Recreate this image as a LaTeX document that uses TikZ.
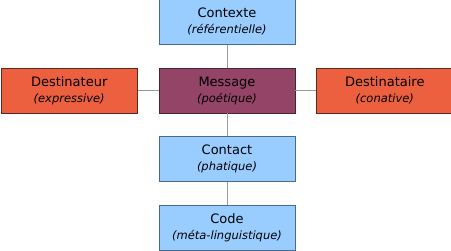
\documentclass[tikz,border=0pt]{standalone}
\usepackage{fontspec}
\setmainfont{DejaVu Sans}
\usetikzlibrary{positioning}
\definecolor{bleu}{HTML}{99CCFF}
\definecolor{bleubord}{HTML}{4A6A8C}
\definecolor{prune}{HTML}{944466}
\definecolor{prunebord}{HTML}{4A2233}
\definecolor{orange}{HTML}{EC6040}
\definecolor{orangebord}{HTML}{5A2A20}
\begin{document}
\begin{tikzpicture}[node distance=23pt and 21pt,
fonction/.style={draw,line width=0.8pt,minimum width=136pt,minimum height=45pt,inner sep=0pt,align=center,font=\fontsize{13}{16}\selectfont},
bleu/.style={fonction,fill=bleu,draw=bleubord},
message/.style={fonction,fill=prune,draw=prunebord},
acteur/.style={fonction,fill=orange,draw=orangebord,minimum width=136pt},
lien/.style={draw=gray!80,line width=0.8pt}]
\newcommand{\sous}[1]{{\fontsize{11.5}{14}\selectfont\itshape(#1)}}
\useasboundingbox (-227pt,90.5pt) rectangle (224pt,-160.5pt);
\node[message] (message) {Message\\\sous{poétique}};
\node[bleu,above=of message] (contexte) {Contexte\\\sous{référentielle}};
\node[bleu,below=of message] (contact) {Contact\\\sous{phatique}};
\node[bleu,below=of contact] (code) {Code\\\sous{méta-linguistique}};
\node[acteur,left=of message] (destinateur) {Destinateur\\\sous{expressive}};
\node[acteur,right=of message] (destinataire) {Destinataire\\\sous{conative}};
\draw[lien] (contexte)--(message);
\draw[lien] (message)--(contact);
\draw[lien] (contact)--(code);
\draw[lien] (destinateur)--(message);
\draw[lien] (message)--(destinataire);
\end{tikzpicture}
\end{document}
